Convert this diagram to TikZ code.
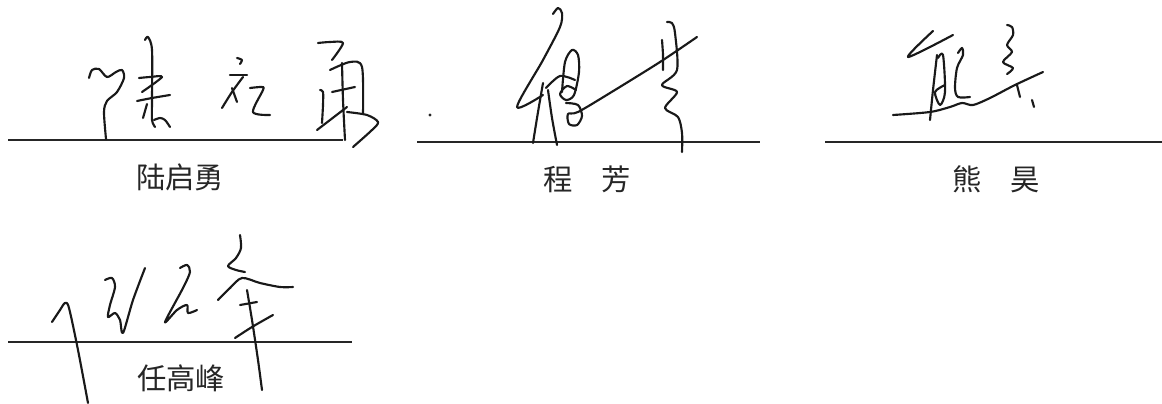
\documentclass[tikz,border=0pt]{standalone}
\usepackage{fontspec}
\setmainfont{Noto Sans CJK SC}
\usepackage{tikz}

\begin{document}
\begin{tikzpicture}[x=0.75pt,y=-0.75pt,
  sig/.style={line width=1.6pt, line cap=round, line join=round, black!90},
  nm/.style={font=\fontsize{22pt}{26pt}\selectfont, text=black!85, inner sep=0pt}]
\useasboundingbox[fill=white] (0,0) rectangle (1162,403);

%draw signature lines
\foreach \a/\b/\y in {8/343/140, 417/760/142, 825/1162/142, 8/352/342}
\draw[line width=1.4pt, black!85] (\a,\y) -- (\b,\y);

%names under the lines
\node[nm] (nameLu) at (180,177) {陆启勇};
\node[nm] (nameCheng) at (587,179) {程\hspace{1em}芳};
\node[nm] (nameXiong) at (996,179) {熊\hspace{1em}昊};
\node[nm] (nameRen) at (181,378) {任高峰};

%first signature
\draw[sig] plot[smooth, tension=0.5] coordinates {(89,78) (92,70) (99,69) (107,77) (116,72) (122,70) (124,78) (117,92) (107,101) (104,112) (106,139)};
\draw[sig] plot[smooth, tension=0.5] coordinates {(145,40) (148,37) (152,50) (152,100) (152,120) (155,127)};
\draw[sig] plot[smooth, tension=0.5] coordinates {(139,78) (150,77) (162,77) (142,92)};
\draw[sig] plot[smooth, tension=0.5] coordinates {(137,101) (152,98) (170,95)};
\draw[sig] plot[smooth, tension=0.5] coordinates {(147,104) (143,118)};
\draw[sig] plot[smooth, tension=0.5] coordinates {(154,120) (160,118) (165,120) (170,127)};
\draw[sig] plot[smooth, tension=0.5] coordinates {(237,58) (242,60) (240,64)};
\draw[sig] plot[smooth, tension=0.5] coordinates {(230,75) (247,75)};
\draw[sig] plot[smooth, tension=0.5] coordinates {(243,77) (232,92) (222,108)};
\draw[sig] plot[smooth, tension=0.5] coordinates {(232,88) (237,102)};
\draw[sig] plot[smooth, tension=0.5] coordinates {(250,88) (262,87) (263,90) (253,112) (270,115)};
\draw[sig] plot[smooth, tension=0.5] coordinates {(318,43) (330,42) (343,43) (332,60)};
\draw[sig] plot[smooth, tension=0.5] coordinates {(320,90) (323,92) (323,105) (322,123)};
\draw[sig] plot[smooth, tension=0.5] coordinates {(330,70) (350,62) (362,67) (363,113)};
\draw[sig] plot[smooth, tension=0.5] coordinates {(332,92) (355,87)};
\draw[sig] plot[smooth, tension=0.5] coordinates {(342,63) (343,100) (345,140)};
\draw[sig] plot[smooth, tension=0.5] coordinates {(317,130) (347,107)};
\draw[sig] plot[smooth, tension=0.5] coordinates {(347,112) (367,115) (378,122) (372,130) (353,147)};

%second signature
\fill[black!85] (430,115) circle (1.6);
\draw[sig] plot[smooth, tension=0.5] coordinates {(553,14) (558,8) (562,13) (560,27) (543,60) (517,107) (543,95)};
\draw[sig] plot[smooth, tension=0.5] coordinates {(543,83) (538,112) (533,143)};
\draw[sig] plot[smooth, tension=0.5] coordinates {(548,90) (552,118) (557,145)};
\draw[sig] plot[smooth, tension=0.5] coordinates {(562,92) (565,62) (572,50) (578,55) (579,72) (574,95) (566,100) (560,94) (567,86) (576,90)};
\draw[sig] plot[smooth, tension=0.5] coordinates {(546,88) (560,76) (575,80)};
\draw[sig] plot[smooth, tension=0.5] coordinates {(566,103) (578,105) (582,116) (577,125) (569,124) (568,114) (578,112) (610,93) (660,62) (697,37)};
\draw[sig] plot[smooth, tension=0.5] coordinates {(667,22) (672,23) (675,33) (677,70) (662,85) (677,92) (665,108) (678,117) (682,133) (682,152)};
\draw[sig] plot[smooth, tension=0.5] coordinates {(662,40) (663,55) (663,70)};

%third signature
\draw[sig] plot[smooth, tension=0.5] coordinates {(933,31) (908,57) (953,35)};
\draw[sig] plot[smooth, tension=0.5] coordinates {(937,55) (933,90) (930,120)};
\draw[sig] plot[smooth, tension=0.5] coordinates {(938,58) (943,55) (945,92) (940,105) (935,92) (945,85)};
\draw[sig] plot[smooth, tension=0.5] coordinates {(958,53) (962,48) (963,55) (957,68) (955,88) (958,97) (970,97)};
\draw[sig] plot[smooth, tension=0.5] coordinates {(893,115) (930,112) (950,107) (962,103) (973,105) (990,98) (1015,85) (1043,72)};
\draw[sig] plot[smooth, tension=0.5] coordinates {(1007,25) (1012,27) (1013,35) (1007,45) (1012,52) (1003,62) (1013,68) (1007,74)};
\draw[sig] plot[smooth, tension=0.5] coordinates {(1017,85) (1020,97)};
\draw[sig] plot[smooth, tension=0.5] coordinates {(1032,100) (1034,107)};

%fourth signature
\draw[sig] plot[smooth, tension=0.5] coordinates {(52,322) (60,310) (65,303) (69,308) (78,350) (88,403)};
\draw[sig] plot[smooth, tension=0.5] coordinates {(105,280) (112,278) (115,287) (110,305) (108,317) (115,313) (120,320) (123,333) (133,300) (145,268)};
\draw[sig] plot[smooth, tension=0.5] coordinates {(180,268) (187,265) (190,272) (183,288) (165,322) (177,310) (187,305) (188,313) (197,310)};
\draw[sig] plot[smooth, tension=0.5] coordinates {(240,235) (241,248) (236,258) (228,266) (236,270) (245,272)};
\draw[sig] plot[smooth, tension=0.5] coordinates {(218,300) (230,288) (242,278) (260,283) (280,287) (293,287)};
\draw[sig] plot[smooth, tension=0.5] coordinates {(240,305) (257,302)};
\draw[sig] plot[smooth, tension=0.5] coordinates {(235,338) (252,327) (273,315)};
\draw[sig] plot[smooth, tension=0.5] coordinates {(247,290) (252,320) (258,360) (262,390)};
\end{tikzpicture}
\end{document}
